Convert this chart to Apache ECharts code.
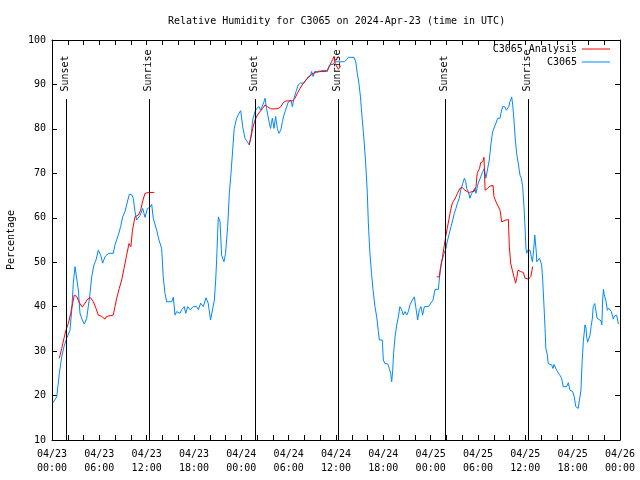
<!DOCTYPE html>
<html><head><meta charset="utf-8">
<script src="https://cdn.jsdelivr.net/npm/echarts@6/dist/echarts.min.js"></script>
<style>html,body{margin:0;padding:0;background:#fff}#c{width:640px;height:480px}</style>
</head><body><div id="c"></div>
<script>
// x = hours since 04/23 00:00 UTC
const xTickLabels = ["04/23\n00:00","04/23\n06:00","04/23\n12:00","04/23\n18:00","04/24\n00:00","04/24\n06:00","04/24\n12:00","04/24\n18:00","04/25\n00:00","04/25\n06:00","04/25\n12:00","04/25\n18:00","04/26\n00:00"];

const stationHours = [0.09,0.6,0.93,1.23,1.52,1.86,2.28,2.5,2.7,2.92,3.13,3.34,3.55,3.84,4.1,4.4,4.6,4.82,5.03,5.32,5.58,5.87,6.17,6.42,6.72,7.14,7.77,7.98,8.4,8.7,8.96,9.25,9.46,9.8,10.1,10.3,10.52,10.73,10.94,11.15,11.5,11.79,11.95,12.1,12.4,12.64,12.84,13.27,13.56,13.9,14.1,14.32,14.54,15.17,15.38,15.59,15.8,16.22,16.44,16.77,16.95,17.2,17.5,17.9,18.34,18.55,18.85,19.18,19.52,19.8,20.1,20.35,20.58,20.75,20.87,21.0,21.08,21.3,21.5,21.8,22.0,22.27,22.48,22.69,22.9,23.1,23.4,23.7,23.92,24.17,24.46,24.76,25.0,25.22,25.44,25.73,25.95,26.24,26.45,26.7,26.87,27.0,27.2,27.4,27.55,27.7,27.93,28.14,28.35,28.56,28.77,29.0,29.2,29.4,29.6,29.96,30.3,30.47,30.68,30.93,31.22,31.5,31.94,32.2,32.5,32.8,32.9,33.1,33.3,33.5,33.97,34.6,34.9,35.0,35.24,35.65,35.87,36.3,37.05,37.35,37.56,38.28,38.5,38.7,38.9,39.1,39.3,39.55,39.76,39.97,40.1,40.3,40.5,40.7,40.94,41.16,41.37,41.5,41.7,41.87,42.0,42.2,42.57,42.76,42.93,43.06,43.19,43.3,43.48,43.7,43.9,44.1,44.33,44.53,44.75,44.96,45.17,45.38,45.68,45.93,46.14,46.35,46.56,46.77,46.98,47.2,47.7,47.9,48.3,48.55,48.97,49.18,49.4,49.7,49.94,50.1,50.36,50.58,50.8,51.0,51.2,51.4,51.63,51.8,52.06,52.27,52.45,52.56,52.77,52.98,53.2,53.4,53.6,53.75,53.96,54.17,54.34,54.6,54.8,55.0,55.18,55.43,55.65,55.86,56.07,56.28,56.5,56.8,56.9,57.12,57.4,57.6,57.9,58.05,58.27,58.4,58.56,58.73,58.9,59.1,59.32,59.5,59.66,59.83,59.96,60.08,60.17,60.3,60.6,60.75,60.9,61.05,61.2,61.4,61.45,61.7,61.8,61.9,62.07,62.2,62.36,62.5,62.6,62.8,62.9,63.34,63.5,63.63,63.97,64.3,64.6,64.8,65.24,65.45,65.66,66.0,66.2,66.4,66.6,66.7,66.95,67.05,67.2,67.35,67.56,67.7,67.77,67.9,68.1,68.2,68.33,68.5,68.6,68.8,68.96,69.1,69.25,69.6,69.7,69.8,69.9,70.0,70.2,70.4,70.55,70.8,70.9,71.15,71.3,71.57,71.8];
const stationValues = [18.3,19.7,25,28.7,31,32.9,34.7,39.2,45.3,49,49,43.7,38.5,37,36.1,37.4,40,43,46.7,49.4,50.5,52.7,51.6,49.8,51.2,52,52,53.9,56.1,58,60.2,61.4,62.9,65.3,65.2,64.4,61.4,59.5,59.4,60.5,62.1,60.1,60.1,62.1,62.3,63,59.9,57.2,55,53.1,46.7,43,41.1,41.1,42.1,38.1,38.9,38.5,39.3,40,38.5,40,39.3,40,40,39.3,40.8,40,42,40.8,37,37,41.5,46,50.5,56.5,60.2,59.1,51.6,50.1,52,58,65.5,70,75.2,80.1,82.4,83.5,84.1,80.5,77.9,77.1,76.4,78.2,82,83.9,84.6,85,84.2,84.2,86.1,86.9,84.6,84.6,81.3,80.1,82.4,80.1,82.8,80.1,79,79.7,81.6,83.1,84.2,86.1,86.5,85,86.9,88.4,89.9,90.3,90.3,91,91.8,92.1,92.9,91.8,92.9,93,93,93.2,92.9,93.6,94.4,94.6,95.1,95.1,95.1,95.6,96.1,96.1,95.1,92.5,90.3,87.2,82.7,77.5,72.3,65.5,58.8,52,47.5,43.7,40,37.7,34.4,32.5,32.3,32.5,28,27.2,27.1,26.1,25,23.1,25.7,29.5,33.2,35.9,37.7,40,39.3,38.1,38.9,38.1,38.9,40.4,41.5,42.2,39.6,37,39.3,40,38.1,40,40,40.4,41.5,43.9,43.9,47.5,50.1,52,53.1,54.6,56.5,58,59.5,61,62.1,63.3,64.4,66.2,67.7,68.9,68.1,66.6,65.9,64.4,65.5,65.9,66.6,65.5,67.4,67,69.2,70.4,71.1,68.9,69.2,73,76.8,79.4,79.7,81.3,82.4,82.4,83.5,85,85,84.2,85,86.1,87.2,85.4,82,77.5,74.5,72.3,69.6,68.9,67,62.5,58,53,52,52.7,52.7,51.2,50.1,52.7,56.1,52,50.1,50.1,50.9,51.1,49.4,46,40.4,35.1,30.6,29.1,27.2,26.9,26.1,27,25.7,24.8,23.9,22,22,22.9,21.2,20.9,19.7,17.5,17.6,17.1,17.1,21.2,27.6,32.1,35.9,35.1,33.2,32,32,33.6,35.5,37.4,40,40.7,40.9,37.4,37,36.8,35.9,41.5,43.9,42.7,41.5,39.2,39.7,40,38.9,37.2,37.9,38.1,36.1];

// null values break the analysis line where there is no analysis
const analysisHours = [0.93,1.23,1.52,1.77,2.07,2.37,2.62,2.83,3.13,3.46,3.84,4.18,4.52,4.9,5.24,5.58,5.87,6.3,6.72,6.93,7.77,7.98,8.2,8.53,8.83,9.13,9.46,9.76,10.0,10.2,10.52,10.94,11.24,11.5,11.79,12.33,12.97,19,25.0,25.22,25.44,25.73,26.03,26.37,26.7,27.0,27.3,27.72,28.27,28.7,29.0,29.32,29.66,30.17,30.5,30.8,31.1,31.44,31.86,32.28,32.7,33.1,33.5,33.97,34.6,34.9,35.24,35.58,35.75,35.87,36.05,36.3,36.6,42,48.76,49.1,49.26,49.48,49.7,49.9,50.1,50.3,50.53,50.75,51.0,51.2,51.4,51.7,52.0,52.35,52.6,52.9,53.2,53.5,53.75,53.9,54.2,54.34,54.6,54.76,54.9,55.2,55.5,55.9,56.03,56.28,56.58,56.8,57.0,57.2,57.55,57.85,57.97,58.14,58.35,58.56,58.77,58.9,59.07,59.4,59.75,59.96,60.2,60.4,60.7,60.85,60.93];
const analysisValues = [28.4,30.6,32.9,34.7,36.2,38.5,40.8,42.6,42.3,40.9,39.9,40.8,41.7,42,41.1,39.6,38.1,37.8,37.2,37.8,38.1,40,41.9,44.1,46,48.6,51.6,54.2,53.5,57.2,60.2,60.6,61.7,63.8,65.5,65.7,65.7,null,76.4,78.2,80.1,82,83.1,83.9,84.6,85.4,85,84.5,84.5,84.6,85,85.9,86.3,86.3,86.3,86.9,88,89.1,90.3,91.2,91.9,92.5,92.7,92.9,92.9,93.1,94.4,95.6,96.3,94.8,94.4,93.4,94.2,null,46.7,46.7,49,50.9,53.5,55.7,57.6,59.5,61.7,63.3,63.6,64.7,65.5,66.6,66.8,66.2,66.2,65.6,65.9,65.9,67,70,71.1,72.4,72.6,73.6,66.2,66.6,67.1,67.3,64.7,63.6,62.5,61.7,59.1,58.9,59.5,59.6,53.5,49.8,48.2,46.7,45.3,46.3,48.2,47.9,47.7,46.4,46,46.2,46.8,48.2,49];

const sunHours = [1.77,12.3,25.73,36.25,49.82,60.34];
const sunNames = ["Sunset","Sunrise","Sunset","Sunrise","Sunset","Sunrise"];
const sunLineTop = 86.7;
const sunLabelBase = 88.3;

const FONT = "'DejaVu Sans Mono', monospace";
const zip = (a,b) => a.map((x,i) => [x, b[i]]);

const chart = echarts.init(document.getElementById('c'), null, {renderer:'canvas'});
const axisCommon = {
  axisLine:{show:true,onZero:false,lineStyle:{color:'#000',width:1}},
  axisTick:{show:true,inside:true,length:5,lineStyle:{color:'#000'}},
  splitLine:{show:false}
};
chart.setOption({
  animation:false,
  backgroundColor:'#fff',
  title:{text:'Relative Humidity for C3065 on 2024-Apr-23 (time in UTC)',left:163,top:11,
    textStyle:{fontFamily:FONT,fontSize:10,fontWeight:'normal',color:'#000'}},
  legend:[
    {data:['C3065 Analysis'],right:30,top:44,orient:'vertical',align:'right',padding:0,itemWidth:28,itemHeight:10,
      icon:'path://M0,4.5L28,4.5L28,5.5L0,5.5Z',textStyle:{fontFamily:FONT,fontSize:10,color:'#000'}},
    {data:['C3065'],right:30,top:57,orient:'vertical',align:'right',padding:0,itemWidth:28,itemHeight:10,
      icon:'path://M0,4.5L28,4.5L28,5.5L0,5.5Z',textStyle:{fontFamily:FONT,fontSize:10,color:'#000'}}
  ],
  grid:{left:52,right:20,top:40,bottom:40,containLabel:false,outerBoundsMode:'none'},
  xAxis:[
    Object.assign({type:'value',min:0,max:72,interval:6,position:'bottom',
      minorTick:{show:true,splitNumber:3,length:5,lineStyle:{color:'#000'}},
      axisLabel:{fontFamily:FONT,fontSize:10,color:'#000',margin:7,lineHeight:14,
        formatter:(v)=>xTickLabels[Math.round(v/6)]}},axisCommon),
    Object.assign({type:'value',min:0,max:72,interval:6,position:'top',
      minorTick:{show:true,splitNumber:3,length:5,lineStyle:{color:'#000'}},
      axisLabel:{show:false}},axisCommon)
  ],
  yAxis:[
    Object.assign({type:'value',min:10,max:100,interval:10,position:'left',
      name:'Percentage',nameLocation:'middle',nameGap:36,nameRotate:90,
      nameTextStyle:{fontFamily:FONT,fontSize:10,color:'#000'},
      axisLabel:{fontFamily:FONT,fontSize:10,color:'#000',margin:6}},axisCommon),
    Object.assign({type:'value',min:10,max:100,interval:10,position:'right',axisLabel:{show:false}},axisCommon)
  ],
  series:[
    {name:'sun',type:'scatter',symbolSize:1,itemStyle:{color:'rgba(0,0,0,0)'},silent:true,z:1,
      data:sunHours.map((h,i)=>({value:[h,sunLabelBase],name:sunNames[i]})),
      label:{show:true,position:[0,0],rotate:90,align:'left',verticalAlign:'middle',
        formatter:(p)=>p.name,fontFamily:FONT,fontSize:10,color:'#000',opacity:1},
      markLine:{silent:true,symbol:['none','none'],animation:false,
        lineStyle:{color:'#000',width:1,type:'solid'},label:{show:false},
        data:sunHours.map(h=>[{coord:[h,10]},{coord:[h,sunLineTop]}])}},
    {name:'C3065 Analysis',type:'line',showSymbol:false,symbol:'none',connectNulls:false,z:3,
      color:'#ff0000',lineStyle:{color:'#ff0000',width:1},data:zip(analysisHours,analysisValues)},
    {name:'C3065',type:'line',showSymbol:false,symbol:'none',z:2,
      color:'#0088ff',lineStyle:{color:'#0088ff',width:1},data:zip(stationHours,stationValues)}
  ]
});
</script></body></html>
